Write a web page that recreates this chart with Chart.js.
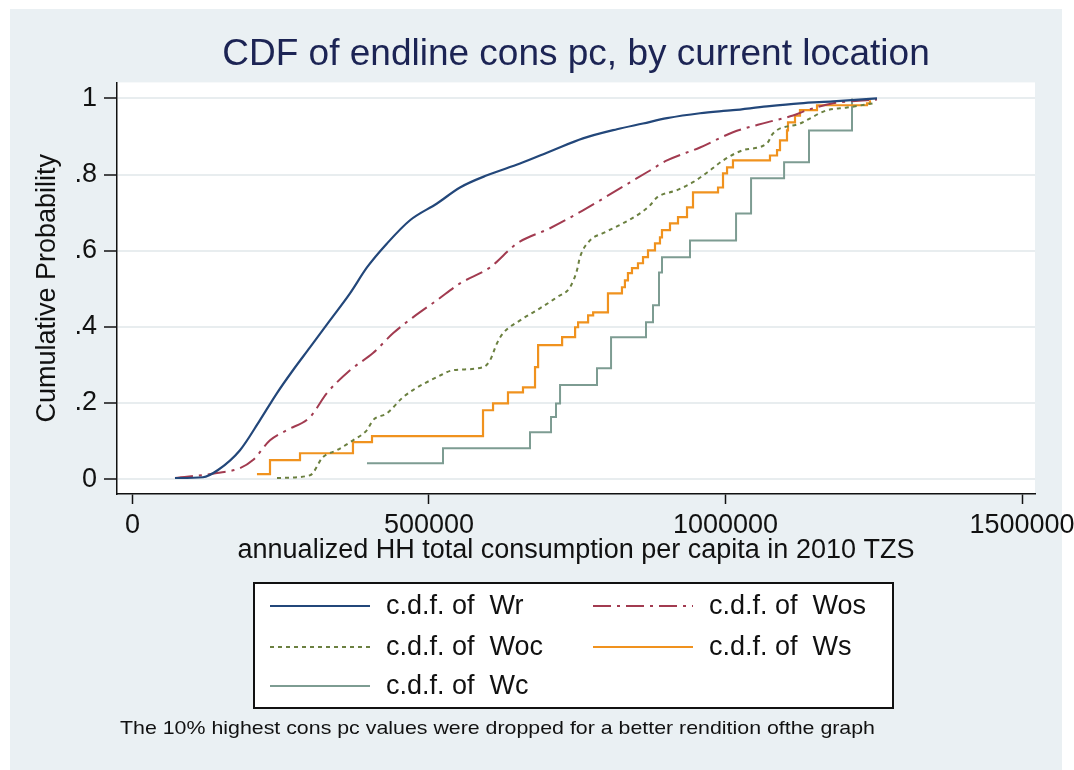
<!DOCTYPE html>
<html>
<head>
<meta charset="utf-8">
<title>CDF of endline cons pc, by current location</title>
<script src="https://cdn.jsdelivr.net/npm/chart.js@4.4.1/dist/chart.umd.min.js"></script>
<style>
  html, body { margin: 0; padding: 0; background: #fff; }
  #wrap { width: 1074px; height: 770px; }
</style>
</head>
<body>
<div id="wrap"><canvas id="cdf" width="1074" height="770"></canvas></div>
<script>
// axis ticks
const xTicks = [0, 500000, 1000000, 1500000];
const yTicks = [0, 0.2, 0.4, 0.6, 0.8, 1];
const yTickLabels = ['0', '.2', '.4', '.6', '.8', '1'];

// c.d.f. of Wr (annualized cons pc in TZS, cumulative probability)
const wrX = [71700, 118900, 144200, 181300, 215000, 243700, 270600, 299300, 333000, 366800, 395400, 429200, 468000, 513500, 552300, 597800, 653500, 709100, 759700, 817000, 860900, 901300, 957000, 1012600, 1070000, 1125600, 1181300, 1255500];
const wrY = [0.003, 0.005, 0.024, 0.076, 0.155, 0.226, 0.286, 0.346, 0.417, 0.488, 0.556, 0.619, 0.680, 0.724, 0.766, 0.798, 0.829, 0.864, 0.895, 0.919, 0.934, 0.948, 0.961, 0.969, 0.979, 0.987, 0.992, 1.0];

// c.d.f. of Wos
const wosX = [71700, 142500, 181300, 203200, 231900, 260500, 299300, 328000, 366800, 405600, 439300, 473000, 513500, 552300, 602900, 648400, 704000, 759700, 817000, 867600, 901300, 957000, 1012600, 1070000, 1113900, 1137500, 1181300, 1255500];
const wosY = [0.003, 0.016, 0.029, 0.050, 0.102, 0.129, 0.163, 0.226, 0.286, 0.331, 0.383, 0.425, 0.470, 0.514, 0.556, 0.619, 0.659, 0.706, 0.759, 0.806, 0.837, 0.871, 0.911, 0.937, 0.955, 0.969, 0.987, 0.997];

// c.d.f. of Woc
const wocX = [243700, 299300, 321200, 344800, 371800, 395400, 405600, 429200, 456100, 473000, 513500, 540500, 591100, 602900, 614700, 624800, 653500, 682200, 715900, 737800, 749600, 754600, 771500, 793500, 827200, 855800, 872700, 884500, 918200, 945200, 973900, 995800, 1029600, 1070000, 1080100, 1125600, 1171200, 1204900, 1248700];
const wocY = [0.003, 0.010, 0.058, 0.076, 0.102, 0.129, 0.155, 0.173, 0.215, 0.234, 0.268, 0.286, 0.294, 0.312, 0.357, 0.383, 0.417, 0.444, 0.478, 0.504, 0.549, 0.583, 0.627, 0.646, 0.672, 0.698, 0.719, 0.740, 0.759, 0.780, 0.811, 0.837, 0.864, 0.882, 0.908, 0.934, 0.969, 0.976, 0.987];

// c.d.f. of Ws (step function)
const wsX = [209900, 231900, 282500, 371800, 403900, 591100, 608000, 633200, 658500, 678800, 684000, 724500, 746400, 751400, 768300, 776800, 801800, 825400, 830400, 835500, 842300, 852400, 860900, 869300, 881100, 889500, 892900, 906400, 919900, 935100, 945200, 987400, 995800, 1002600, 1012600, 1075000, 1086900, 1091900, 1103700, 1105400, 1117200, 1125600, 1154300, 1238600, 1243600];
const wsY = [0.013, 0.050, 0.068, 0.097, 0.113, 0.181, 0.199, 0.228, 0.241, 0.294, 0.352, 0.373, 0.399, 0.412, 0.430, 0.438, 0.488, 0.504, 0.522, 0.541, 0.554, 0.567, 0.583, 0.601, 0.619, 0.635, 0.654, 0.672, 0.688, 0.714, 0.753, 0.766, 0.803, 0.819, 0.837, 0.850, 0.864, 0.890, 0.916, 0.937, 0.955, 0.969, 0.982, 0.987, 0.995];

// c.d.f. of Wc (step function)
const wcX = [395400, 523600, 670300, 705800, 714200, 721000, 783300, 807000, 865900, 877700, 887900, 892900, 940100, 1017800, 1043100, 1098800, 1140800, 1213300];
const wcY = [0.042, 0.081, 0.123, 0.163, 0.199, 0.247, 0.291, 0.373, 0.412, 0.457, 0.543, 0.583, 0.627, 0.698, 0.790, 0.832, 0.916, 1.0];

const FONT = '"Liberation Sans", Arial, sans-serif';
const pts = (xs, ys) => xs.map((x, i) => ({ x, y: ys[i] }));

// light panel behind everything, white plot region
const backdrop = {
  id: 'backdrop',
  beforeDraw(chart) {
    const { ctx, chartArea: a } = chart;
    ctx.save();
    ctx.fillStyle = '#ffffff';
    ctx.fillRect(0, 0, chart.width, chart.height);
    ctx.fillStyle = '#eaf0f3';
    ctx.fillRect(10, 9, 1052, 761);
    ctx.fillStyle = '#ffffff';
    ctx.fillRect(a.left, a.top, a.right - a.left, a.bottom - a.top);
    ctx.restore();
  }
};

// boxed two-column legend + footnote
const boxLegend = {
  id: 'boxLegend',
  afterDraw(chart) {
    const ctx = chart.ctx;
    ctx.save();
    ctx.fillStyle = '#fff';
    ctx.fillRect(254, 583, 639, 125);
    ctx.strokeStyle = '#111';
    ctx.lineWidth = 2;
    ctx.strokeRect(254, 583, 639, 125);

    const slots = [[270, 606], [593, 606], [270, 647], [593, 647], [270, 686]];
    chart.data.datasets.forEach((ds, i) => {
      const [x, y] = slots[i];
      ctx.setLineDash(ds.borderDash || []);
      ctx.strokeStyle = ds.borderColor;
      ctx.lineWidth = ds.borderWidth;
      ctx.beginPath();
      ctx.moveTo(x, y);
      ctx.lineTo(x + 100, y);
      ctx.stroke();
      ctx.setLineDash([]);
      ctx.fillStyle = '#111';
      ctx.font = '27px ' + FONT;
      ctx.textBaseline = 'middle';
      ctx.textAlign = 'left';
      ctx.fillText(ds.label, x + 116, y + 1);
    });

    const note = 'The 10% highest cons pc values were dropped for a better rendition ofthe graph';
    ctx.font = '19px ' + FONT;
    const w = ctx.measureText(note).width;
    ctx.translate(120, 729);
    ctx.scale(755 / w, 1);
    ctx.fillStyle = '#111';
    ctx.fillText(note, 0, 0);
    ctx.restore();
  }
};

new Chart(document.getElementById('cdf'), {
  type: 'line',
  data: {
    datasets: [
      { label: 'c.d.f. of  Wr', data: pts(wrX, wrY), borderColor: '#23477a', borderWidth: 2.2, cubicInterpolationMode: 'monotone' },
      { label: 'c.d.f. of  Wos', data: pts(wosX, wosY), borderColor: '#a23b50', borderWidth: 2, borderDash: [18, 6, 3, 6], cubicInterpolationMode: 'monotone' },
      { label: 'c.d.f. of  Woc', data: pts(wocX, wocY), borderColor: '#6b8040', borderWidth: 2, borderDash: [4, 4], cubicInterpolationMode: 'monotone' },
      { label: 'c.d.f. of  Ws', data: pts(wsX, wsY), borderColor: '#f0921e', borderWidth: 2.2, stepped: true },
      { label: 'c.d.f. of  Wc', data: pts(wcX, wcY), borderColor: '#7d9c92', borderWidth: 2, stepped: true }
    ]
  },
  options: {
    responsive: false,
    devicePixelRatio: 1,
    animation: false,
    elements: { point: { radius: 0 }, line: { tension: 0.4, fill: false } },
    layout: { padding: { top: 10, left: 20, right: 39, bottom: 203 } },
    plugins: {
      legend: { display: false },
      tooltip: { enabled: false },
      title: {
        display: true,
        fullSize: false,
        text: 'CDF of endline cons pc, by current location',
        color: '#1c2454',
        font: { family: FONT, size: 37, weight: 'normal' },
        padding: { top: 23, bottom: 5 }
      }
    },
    scales: {
      x: {
        type: 'linear',
        min: -26100,
        max: 1521900,
        afterBuildTicks: (s) => { s.ticks = xTicks.map(v => ({ value: v })); },
        afterFit: (s) => { s.height = 73; s.paddingLeft = 0; s.paddingRight = 0; },
        ticks: {
          color: '#111',
          padding: 5,
          maxRotation: 0,
          autoSkip: false,
          font: { family: FONT, size: 27 },
          callback: (v) => String(v)
        },
        grid: { drawOnChartArea: false, tickLength: 10, tickColor: '#111', tickWidth: 1.5 },
        border: { display: true, color: '#111', width: 1.5 },
        title: {
          display: true,
          text: 'annualized HH total consumption per capita in 2010 TZS',
          color: '#111',
          font: { family: FONT, size: 27 },
          padding: { top: 0, bottom: 0 }
        }
      },
      y: {
        type: 'linear',
        min: -0.039,
        max: 1.042,
        afterBuildTicks: (s) => { s.ticks = yTicks.map(v => ({ value: v })); },
        afterFit: (s) => { s.width = 97; s.paddingTop = 0; s.paddingBottom = 0; },
        ticks: {
          color: '#111',
          padding: 7,
          autoSkip: false,
          font: { family: FONT, size: 27 },
          callback: (v, i) => yTickLabels[i]
        },
        grid: { color: '#e8edef', lineWidth: 2, tickLength: 13, tickColor: '#111', tickWidth: 1.5 },
        border: { display: true, color: '#111', width: 1.5 },
        title: {
          display: true,
          text: 'Cumulative Probability',
          color: '#111',
          font: { family: FONT, size: 27 },
          padding: { top: 11, bottom: 0 }
        }
      }
    }
  },
  plugins: [backdrop, boxLegend]
});
</script>
</body>
</html>
